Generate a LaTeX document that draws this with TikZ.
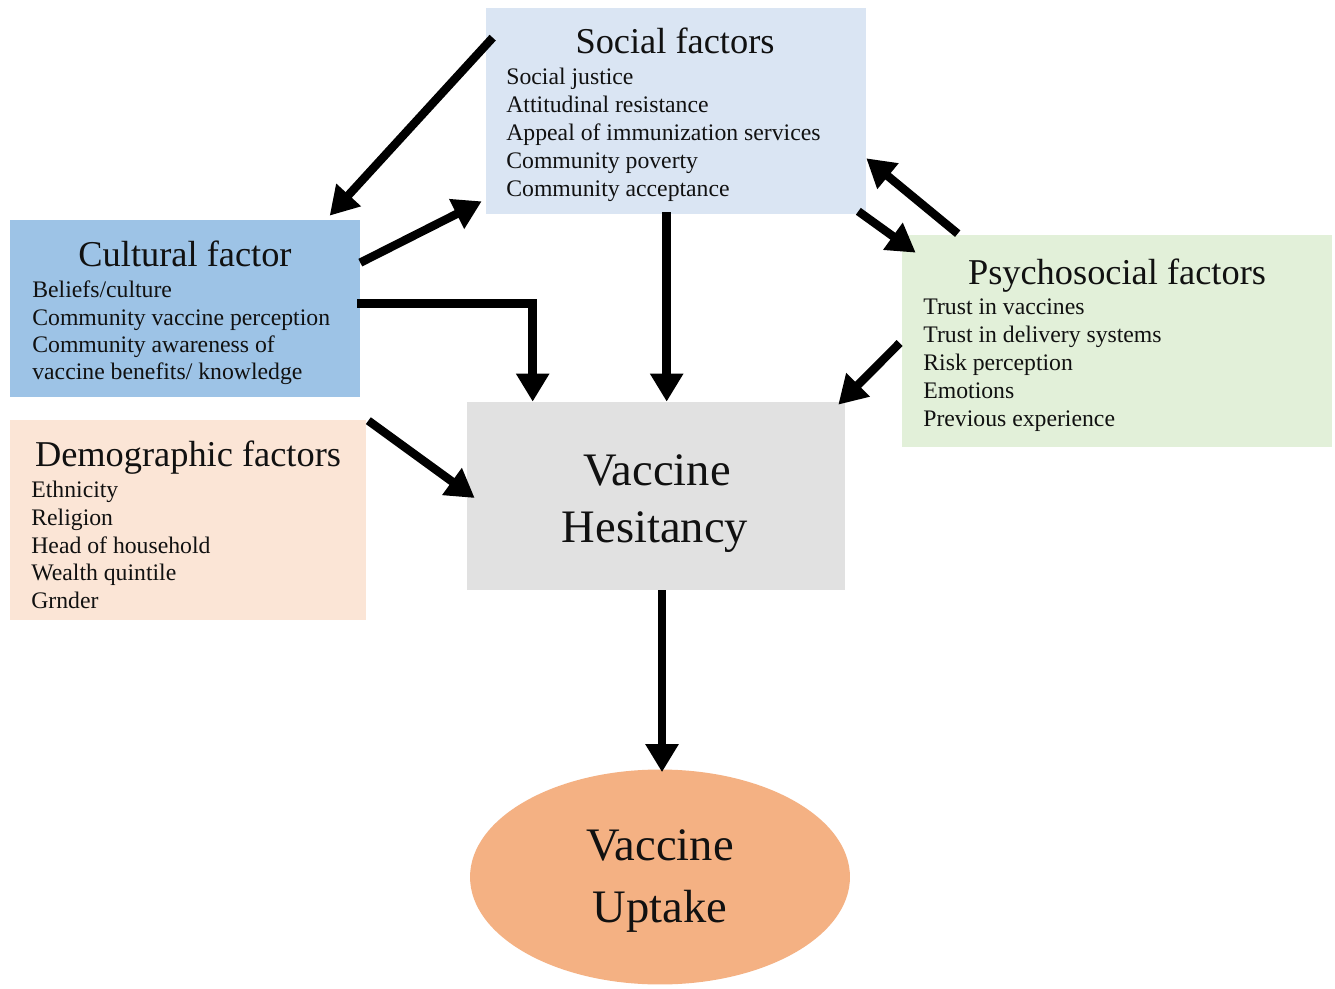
\documentclass[tikz,border=0pt]{standalone}
\usepackage{fontspec}
\setmainfont{Liberation Serif}
\usetikzlibrary{arrows.meta,calc,shapes.geometric}
\definecolor{socfill}{HTML}{DAE5F3}
\definecolor{culfill}{HTML}{9DC3E6}
\definecolor{demfill}{HTML}{FBE5D6}
\definecolor{psyfill}{HTML}{E2F0D9}
\definecolor{hesfill}{HTML}{E1E1E1}
\definecolor{uptfill}{HTML}{F4B183}
\definecolor{ink}{HTML}{111111}
\begin{document}
\begin{tikzpicture}[x=0.02cm,y=-0.02cm,
  box/.style={rectangle,draw=none,inner sep=0pt},
  title/.style={font=\fontsize{20.7}{24}\selectfont,text=ink,anchor=base,inner sep=0pt},
  item/.style={font=\fontsize{13.5}{16}\selectfont,text=ink,anchor=base west,inner sep=0pt},
  big/.style={font=\fontsize{26.5}{30}\selectfont,text=ink,anchor=base,inner sep=0pt},
  arr/.style={draw=black,line width=4.8pt,-{Triangle[length=16pt,width=18pt]}}]
\useasboundingbox[fill=white] (0,0) rectangle (1335,989);

% boxes
\node[box,fill=socfill,minimum width=7.6cm,minimum height=4.12cm] (soc) at (676,111) {};
\node[box,fill=culfill,minimum width=7.0cm,minimum height=3.54cm] (cul) at (185,308.5) {};
\node[box,fill=demfill,minimum width=7.12cm,minimum height=4.0cm] (dem) at (188,520) {};
\node[box,fill=psyfill,minimum width=8.6cm,minimum height=4.24cm] (psy) at (1117,341) {};
\node[box,fill=hesfill,minimum width=7.56cm,minimum height=3.76cm] (hes) at (656,496) {};
\node[ellipse,draw=none,fill=uptfill,minimum width=7.6cm,minimum height=4.3cm,inner sep=0pt] (upt) at (660,877) {};

% titles
\node[title] (soct) at (675,54) {Social factors};
\node[title] (cult) at (185,267) {Cultural factor};
\node[title] (demt) at (188,467) {Demographic factors};
\node[title] (psyt) at (1117,285) {Psychosocial factors};
\node[big] (hes1) at (657,485) {Vaccine};
\node[big] (hes2) at (655,542) {Hesitancy};
\node[big] (upt1) at (660,860) {Vaccine};
\node[big] (upt2) at (660,922) {Uptake};

% items
\foreach \t [count=\i] in {Social justice,Attitudinal resistance,Appeal of immunization services,Community poverty,Community acceptance}
  \node[item] (s\i) at (506,{85+28*(\i-1)}) {\t};
\foreach \t [count=\i] in {Beliefs/culture,Community vaccine perception,Community awareness of,vaccine benefits/ knowledge}
  \node[item] (c\i) at (32,{298+27.3*(\i-1)}) {\t};
\foreach \t [count=\i] in {Ethnicity,Religion,Head of household,Wealth quintile,Grnder}
  \node[item] (d\i) at (31,{498+27.5*(\i-1)}) {\t};
\foreach \t [count=\i] in {Trust in vaccines,Trust in delivery systems,Risk perception,Emotions,Previous experience}
  \node[item] (p\i) at (923,{315+27.9*(\i-1)}) {\t};

% arrows
\draw[arr] ($(soc.north west)+(7,30)$) -- ($(cul.north west)+(320,-4)$);
\draw[arr] ($(cul.north east)+(0,43)$) -- ($(soc.south west)+(-4,-13)$);
\draw[arr] ($(cul.east)+(-3,-5)$) -| ($(hes.north west)+(66,0)$);
\draw[arr] ($(soc.south west)+(181,-2)$) -- ($(hes.north west)+(200,0)$);
\draw[arr] ($(dem.north east)+(2,1)$) -- ($(hes.west)+(8,2)$);
\draw[arr] ($(psy.west)+(-2,2)$) -- ($(hes.north east)+(-7,3)$);
\draw[arr] ($(soc.south east)+(-8,-3)$) -- ($(psy.north west)+(14,18)$);
\draw[arr] ($(psy.north west)+(56,-1)$) -- ($(soc.south east)+(0,-56)$);
\draw[arr] ($(hes.south)+(6,0)$) -- ($(upt.north)+(2,3)$);
\end{tikzpicture}
\end{document}
